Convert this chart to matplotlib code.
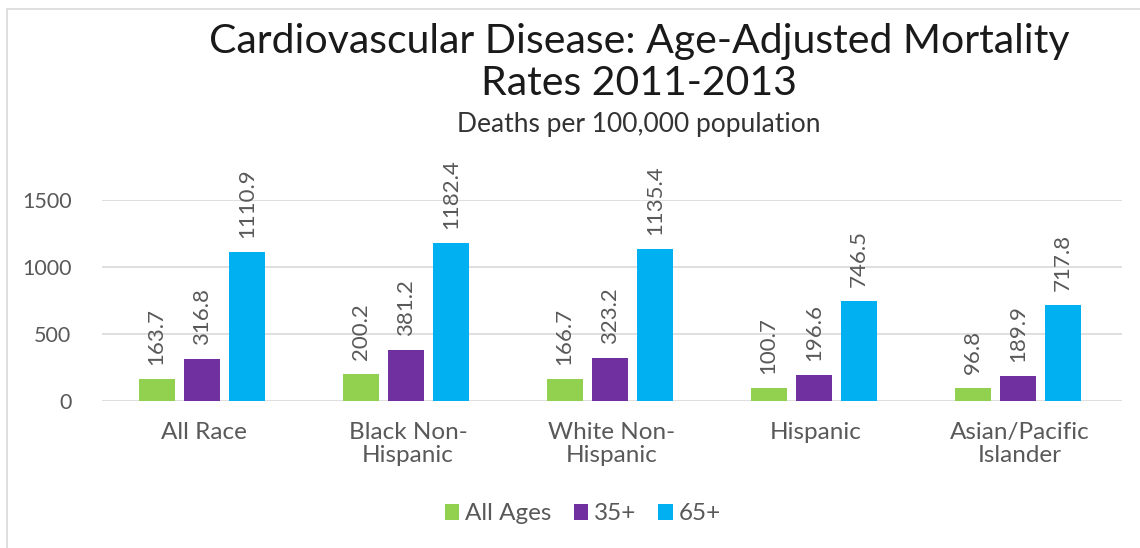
import matplotlib.pyplot as plt
from matplotlib.patches import Rectangle

categories = ["All Race", "Black Non-\nHispanic", "White Non-\nHispanic", "Hispanic", "Asian/Pacific\nIslander"]
all_ages = [163.7, 200.2, 166.7, 100.7, 96.8]
age_35 = [316.8, 381.2, 323.2, 196.6, 189.9]
age_65 = [1110.9, 1182.4, 1135.4, 746.5, 717.8]
series_names = ["All Ages", "35+", "65+"]
colors = ["#92D050", "#7030A0", "#00B0F0"]

plt.rcParams['font.family'] = ['Lato', 'DejaVu Sans']
gray = "#595959"

fig = plt.figure(figsize=(11.4, 5.48), dpi=100)
fig.patches.append(Rectangle((7 / 1140, -0.1), 1.2, 1 - 9 / 548 + 0.1, transform=fig.transFigure,
                             fill=False, edgecolor="#d9d9d9", linewidth=1.2))
ax = fig.add_axes([102 / 1140, 1 - 401 / 548, 1020 / 1140, 201 / 548])

width = 0.175
offset = 0.222
x = list(range(len(categories)))
for i, (vals, name, c) in enumerate(zip([all_ages, age_35, age_65], series_names, colors)):
    pos = [xi + (i - 1) * offset - 0.01 for xi in x]
    ax.bar(pos, vals, width, color=c, label=name, zorder=3)
    for p, v in zip(pos, vals):
        ax.annotate(f"{v:.1f}", (p, v), xytext=(0, 10), textcoords="offset points",
                    rotation=90, ha="center", va="bottom", fontsize=16, color=gray,
                    annotation_clip=False)

ax.set_xlim(-0.5, 4.5)
ax.set_ylim(0, 1500)
ax.set_yticks([0, 500, 1000, 1500])
ax.set_xticks(x)
ax.set_xticklabels(categories, fontsize=17.5, color=gray, linespacing=1.15)
ax.tick_params(axis="y", labelsize=15.5, labelcolor=gray, length=0, pad=22)
ax.tick_params(axis="x", length=0, pad=15)
ax.grid(axis="y", color="#d9d9d9", linewidth=1.2, zorder=0)
for s in ax.spines.values():
    s.set_visible(False)

fig.text(639 / 1140, 1 - 41 / 548, "Cardiovascular Disease: Age-Adjusted Mortality", ha="center", va="center",
         fontsize=29.5, color="#1a1a1a")
fig.text(639 / 1140, 1 - 83 / 548, "Rates 2011-2013", ha="center", va="center", fontsize=29.5, color="#1a1a1a")
fig.text(639 / 1140, 1 - 124 / 548, "Deaths per 100,000 population", ha="center", va="center",
         fontsize=19, color="#333333")

fig.legend(loc="center", bbox_to_anchor=(583 / 1140, 1 - 514 / 548), ncol=3, frameon=False,
           fontsize=17.5, labelcolor=gray, handlelength=0.6, handleheight=0.6, handletextpad=0.25,
           columnspacing=0.9)

fig.savefig("out.png", dpi=100, facecolor="white")
